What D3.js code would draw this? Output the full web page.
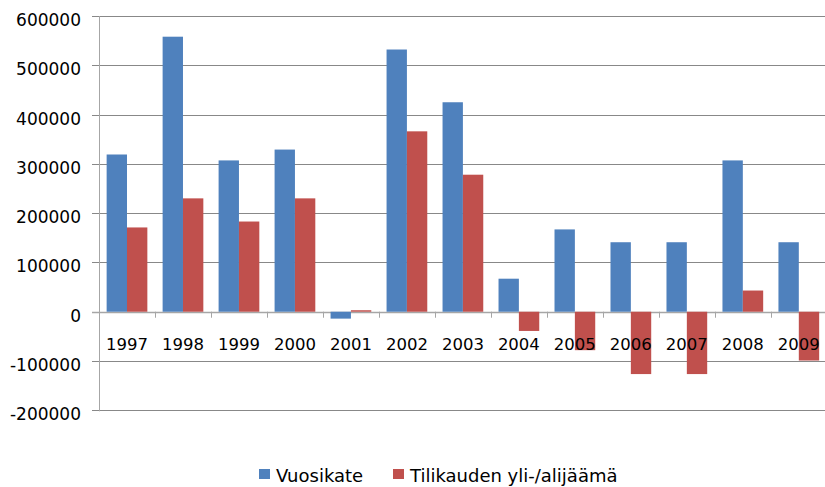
<!DOCTYPE html>
<html>
<head>
<meta charset="utf-8">
<script src="https://cdn.jsdelivr.net/npm/d3@7"></script>
<style>
  body { margin: 0; background: #fff; }
  text { font-family: "DejaVu Sans", sans-serif; fill: #000; }
</style>
</head>
<body>
<div id="chart"></div>
<script>
"use strict";

// Donnees
var vuodet = ["1997","1998","1999","2000","2001","2002","2003","2004","2005","2006","2007","2008","2009"];
var sarjat = ["Vuosikate", "Tilikauden yli-/alijäämä"];
var vuosikate = [319000, 558000, 307000, 329000, -14000, 532000, 425000, 67000, 167000, 141000, 141000, 307000, 141000];
var ylijaama  = [171000, 230000, 183000, 230000, 3000, 366000, 278000, -39000, -78000, -126500, -126500, 43000, -99000];
var yTicks = [-200000, -100000, 0, 100000, 200000, 300000, 400000, 500000, 600000];
var couleurs = ["#4F81BD", "#C0504D"];

var larg = 825, haut = 487;
var gauche = 99, droite = 826.8, haut0 = 16, bas0 = 410.3;

var svg = d3.select("#chart")
  .append("svg")
  .attr("width", larg)
  .attr("height", haut);

var x0 = d3.scaleBand().domain(vuodet).range([gauche, droite]).padding(0);
var x1 = d3.scaleBand().domain(sarjat).range([0, x0.bandwidth()]).paddingInner(0).paddingOuter(0.375);
var y = d3.scaleLinear().domain([-200000, 600000]).range([bas0, haut0]);

// lignes de grille
svg.selectAll("line.grid")
  .data(yTicks)
  .enter()
  .append("line")
  .attr("class", "grid")
  .attr("x1", gauche - 7)
  .attr("x2", larg)
  .attr("y1", function(d){ return Math.round(y(d)) + 0.5; })
  .attr("y2", function(d){ return Math.round(y(d)) + 0.5; })
  .attr("stroke", function(d){ return d === 0 ? "#a6a6a6" : "#888"; })
  .attr("stroke-width", function(d){ return d === 0 ? 1.5 : 1; });

// axe vertical
svg.append("line")
  .attr("x1", gauche + 0.5).attr("x2", gauche + 0.5)
  .attr("y1", y(600000)).attr("y2", y(-200000) + 1)
  .attr("stroke", "#a6a6a6");

// etiquettes de l'axe y
svg.selectAll("text.ylab")
  .data(yTicks)
  .enter()
  .append("text")
  .attr("class", "ylab")
  .attr("x", 81)
  .attr("y", function(d){ return y(d) + 10; })
  .attr("text-anchor", "end")
  .attr("font-size", "17px")
  .text(function(d){ return d; });

// barres
var groupes = svg.selectAll("g.annee")
  .data(vuodet)
  .enter()
  .append("g")
  .attr("class", "annee")
  .attr("transform", function(d){ return "translate(" + x0(d) + ",0)"; });

groupes.selectAll("rect")
  .data(function(d, i){ return [vuosikate[i], ylijaama[i]].map(function(v, j){ return {s: sarjat[j], v: v, c: couleurs[j]}; }); })
  .enter()
  .append("rect")
  .attr("x", function(d){ return x1(d.s); })
  .attr("width", x1.bandwidth())
  .attr("y", function(d){ return y(Math.max(0, d.v)); })
  .attr("height", function(d){ return Math.abs(y(d.v) - y(0)); })
  .attr("fill", function(d){ return d.c; });

// petits traits de categories
svg.selectAll("line.tick")
  .data(vuodet.slice(1))
  .enter()
  .append("line")
  .attr("class", "tick")
  .attr("x1", function(d){ return Math.round(x0(d)) + 0.5; })
  .attr("x2", function(d){ return Math.round(x0(d)) + 0.5; })
  .attr("y1", y(0))
  .attr("y2", y(0) + 6)
  .attr("stroke", "#a6a6a6");

// annees
svg.selectAll("text.xlab")
  .data(vuodet)
  .enter()
  .append("text")
  .attr("class", "xlab")
  .attr("x", function(d){ return x0(d) + x0.bandwidth() / 2; })
  .attr("y", y(0) + 38)
  .attr("text-anchor", "middle")
  .attr("font-size", "16.5px")
  .text(function(d){ return d; });

// legende
var legX = [259, 393];
var leg = svg.selectAll("g.leg")
  .data(sarjat)
  .enter()
  .append("g")
  .attr("class", "leg")
  .attr("transform", function(d, i){ return "translate(" + legX[i] + ",469)"; });

leg.append("rect")
  .attr("width", 11)
  .attr("height", 10)
  .attr("fill", function(d, i){ return couleurs[i]; });

leg.append("text")
  .attr("x", 17)
  .attr("y", 13)
  .attr("font-size", "18px")
  .text(function(d){ return d; });
</script>
</body>
</html>
